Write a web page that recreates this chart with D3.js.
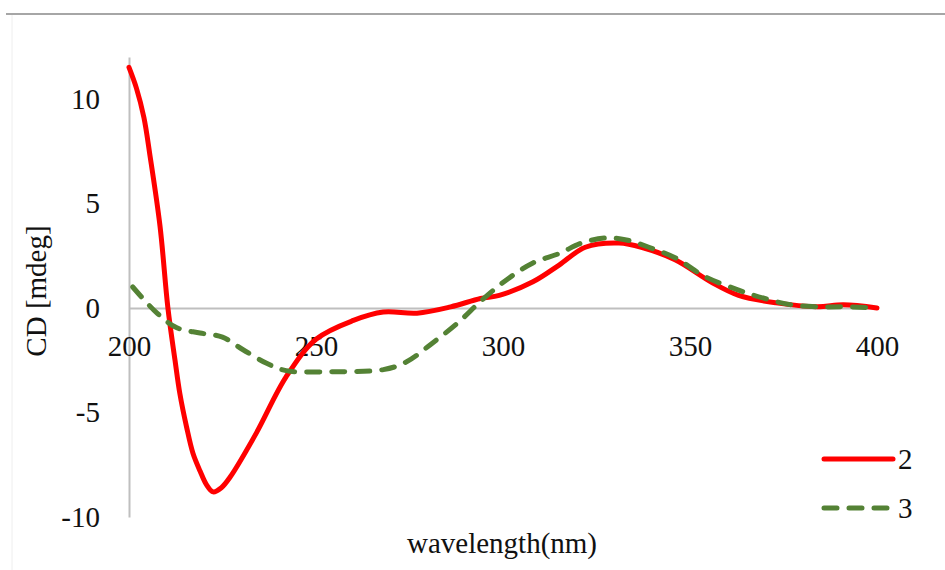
<!DOCTYPE html>
<html>
<head>
<meta charset="utf-8">
<script src="https://cdn.jsdelivr.net/npm/d3@7"></script>
<style>
	body { margin: 0; background: #fff; }
	.axis .domain { stroke: #bfbfbf; stroke-width: 2; }
</style>
</head>
<body>
<div id="chart-area"></div>
<script>
// SVG Size
let width = 945,
	height = 570;
let serif = "'Liberation Serif', 'Times New Roman', 'DejaVu Serif', serif";

// series "2" (red)
let wl2 = [200, 202, 204, 205.6, 208.3, 210.4, 212.3, 213.6, 215.4, 217.1, 219, 220.7, 222.5, 224.7, 227, 234, 242, 250, 260, 268, 277, 286, 294, 299, 308, 315, 322, 331, 337, 346, 356, 363, 373, 384, 391, 400];
let cd2 = [11.5, 10.5, 9.1, 7.3, 3.9, 0, -2.5, -4.1, -5.7, -6.95, -7.8, -8.45, -8.8, -8.6, -8.1, -6.0, -3.3, -1.5, -0.6, -0.2, -0.25, 0.05, 0.45, 0.6, 1.25, 2.05, 2.9, 3.1, 2.9, 2.3, 1.2, 0.6, 0.24, 0.06, 0.15, 0];

// series "3" (green dashed)
let wl3 = [201, 207.5, 212.8, 219, 225, 230.5, 236.8, 242, 254.5, 268, 274, 281, 288, 294.5, 301, 308, 315, 321, 327.6, 333, 339, 346, 354, 363, 370, 377, 384.5, 391.7, 400];
let cd3 = [1.0, -0.25, -0.95, -1.2, -1.4, -2.0, -2.65, -3.0, -3.05, -2.95, -2.6, -1.7, -0.7, 0.4, 1.35, 2.15, 2.6, 3.1, 3.35, 3.25, 2.9, 2.4, 1.5, 0.85, 0.45, 0.15, 0.05, 0.05, 0];

let xTicks = [200, 250, 300, 350, 400];
let yTicks = [-10, -5, 0, 5, 10];
let seriesNames = ["2", "3"];

let svg = d3.select("#chart-area").append("svg")
	.attr("width", width)
	.attr("height", height)
	.style("font-family", serif);

// frame lines
svg.append("line")
	.attr("x1", 6).attr("x2", width)
	.attr("y1", 14).attr("y2", 14)
	.attr("stroke", "#a6a6a6").attr("stroke-width", 2);
svg.append("line")
	.attr("x1", 12).attr("x2", 12)
	.attr("y1", 15).attr("y2", height)
	.attr("stroke", "#eeeeee").attr("stroke-width", 1);

let XScale = d3.scaleLinear()
	.domain([200, 400])
	.range([129, 877]);
let YScale = d3.scaleLinear()
	.domain([-10, 12])
	.range([517, 57]);

// The Axis
let xAxis = d3.axisBottom(XScale)
	.tickValues(xTicks)
	.tickSize(0)
	.tickPadding(28)
	.tickFormat(d => String(d));
let yAxis = d3.axisLeft(YScale)
	.tickValues(yTicks)
	.tickSize(0)
	.tickPadding(29)
	.tickFormat(d => String(d));

svg.append("g")
	.attr("class", "axis y-axis")
	.attr("transform", "translate(" + XScale(200) + ",0)")
	.call(yAxis);

svg.append("g")
	.attr("class", "axis x-axis")
	.attr("transform", "translate(0," + YScale(0) + ")")
	.call(xAxis);

svg.selectAll(".axis")
	.attr("font-family", serif)
	.attr("font-size", 29)
	.selectAll("text").attr("fill", "#111");

let line = d3.line()
	.x(d => XScale(d[0]))
	.y(d => YScale(d[1]))
	.curve(d3.curveCatmullRom.alpha(0.5));

let series = [
	{ name: seriesNames[0], pts: d3.zip(wl2, cd2), color: "#ff0000", dash: null },
	{ name: seriesNames[1], pts: d3.zip(wl3, cd3), color: "#548235", dash: "13,12" }
];

series.forEach(s => {
	svg.append("path")
		.attr("d", line(s.pts))
		.attr("fill", "none")
		.attr("stroke", s.color)
		.attr("stroke-width", 5)
		.attr("stroke-linecap", "round")
		.attr("stroke-linejoin", "round")
		.attr("stroke-dasharray", s.dash);
});

// legend
let legend = svg.selectAll(".legend-item").data(series)
	.enter().append("g")
	.attr("class", "legend-item")
	.attr("transform", (d, i) => "translate(824," + (459 + i * 49) + ")");

legend.append("line")
	.attr("x1", 0).attr("x2", 69)
	.attr("stroke", d => d.color)
	.attr("stroke-width", 5)
	.attr("stroke-linecap", "round")
	.attr("stroke-dasharray", d => d.dash ? "13,12" : null);

legend.append("text")
	.attr("x", 74)
	.attr("dy", "0.35em")
	.attr("font-size", 29)
	.attr("fill", "#111")
	.text(d => d.name);

// axis titles
svg.append("text")
	.attr("x", 502)
	.attr("y", 553)
	.attr("text-anchor", "middle")
	.attr("font-size", 29)
	.attr("fill", "#111")
	.text("wavelength(nm)");

svg.append("text")
	.attr("transform", "translate(46,291) rotate(-90)")
	.attr("text-anchor", "middle")
	.attr("font-size", 29)
	.attr("fill", "#111")
	.text("CD [mdeg]");
</script>
</body>
</html>
